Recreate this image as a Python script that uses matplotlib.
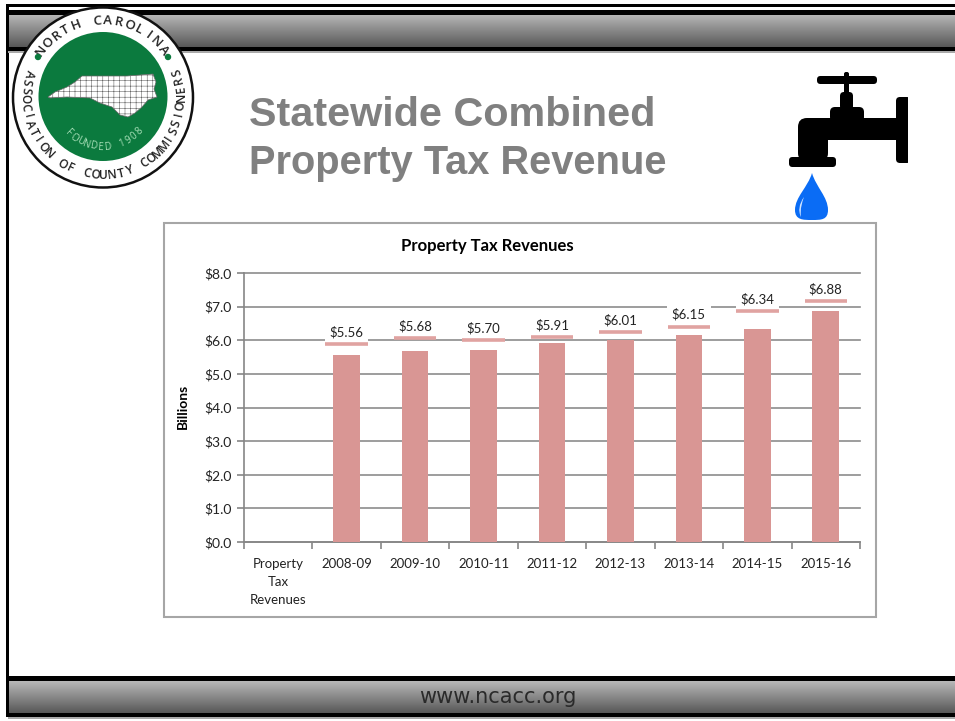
import matplotlib
matplotlib.use('Agg')
from matplotlib import pyplot as plt
from matplotlib.patches import Circle, Rectangle, FancyBboxPatch, Polygon, PathPatch
from matplotlib.path import Path
import numpy as np

categories = ['Property\nTax\nRevenues', '2008-09', '2009-10', '2010-11', '2011-12',
              '2012-13', '2013-14', '2014-15', '2015-16']
revenues = [5.56, 5.68, 5.70, 5.91, 6.01, 6.15, 6.34, 6.88]
y_ticks = [0, 1, 2, 3, 4, 5, 6, 7, 8]
# where the data labels sit on the y scale, they float above the bars
label_heights = [6.25, 6.43, 6.37, 6.46, 6.60, 6.76, 7.23, 7.53]

W, H = 955, 721
fig = plt.figure(figsize=(W / 100, H / 100), dpi=100, facecolor='white')

# background layer in pixel coordinates
bg = fig.add_axes([0, 0, 1, 1])
bg.set_xlim(0, W)
bg.set_ylim(H, 0)
bg.axis('off')

gradient = np.linspace(0, 1, 64).reshape(-1, 1)
cmap = matplotlib.colors.LinearSegmentedColormap.from_list('bar', ['#b8b8b8', '#585858'])
bg.imshow(gradient, extent=[8, W, 47, 14], cmap=cmap, aspect='auto', zorder=1)
bg.imshow(gradient, extent=[8, W, 713, 681], cmap=cmap, aspect='auto', zorder=1)
bg.set_xlim(0, W)
bg.set_ylim(H, 0)

# black rules
for y0, y1 in [(4, 7), (10, 15), (47, 51), (676, 681), (713, 717)]:
    bg.add_patch(Rectangle((6, y0), W - 6, y1 - y0, color='black', lw=0, zorder=2))
bg.add_patch(Rectangle((6, 4), 2.5, 713, color='black', lw=0, zorder=2))
bg.add_patch(Rectangle((8, 51), W - 8, 1.5, color='#aaaaaa', lw=0, zorder=2))
bg.add_patch(Rectangle((8, 717), W - 8, 1.5, color='#aaaaaa', lw=0, zorder=2))

bg.text(498, 697, 'www.ncacc.org', ha='center', va='center', fontsize=15,
        family='DejaVu Sans', color='#2a2a2a', zorder=3)

bg.text(249, 115, 'Statewide Combined', ha='left', va='center', fontsize=29.8,
        family='Liberation Sans', fontweight='bold', color='#808080', zorder=3)
bg.text(249, 163, 'Property Tax Revenue', ha='left', va='center', fontsize=28.7,
        family='Liberation Sans', fontweight='bold', color='#808080', zorder=3)

# logo
cx, cy = 103, 97.5
green = '#0b7a3e'
bg.add_patch(Circle((cx, cy), 90, facecolor='white', edgecolor='#111111', lw=1.8, zorder=4))
bg.add_patch(Circle((cx, 96.5), 64.5, facecolor=green, edgecolor='none', zorder=5))


def arc_text(s, start, end, radius, size, color, top=True, weight='normal'):
    angles = np.linspace(start, end, len(s))
    for ch, a in zip(s, angles):
        t = np.deg2rad(a)
        x = cx + radius * np.cos(t)
        y = cy - radius * np.sin(t)
        rot = a - 90 if top else a + 90
        bg.text(x, y, ch, rotation=rot, rotation_mode='anchor', ha='center', va='center',
                fontsize=size, color=color, family='Open Sans', fontweight=weight, zorder=7)


arc_text('NORTH CAROLINA', 143, 38, 77, 9.5, '#222222', weight='semibold')
arc_text('ASSOCIATION OF COUNTY COMMISSIONERS', 162, 379, 78, 8.6, '#222222', top=False, weight='semibold')
arc_text('FOUNDED 1908', 226, 317, 50, 7, '#a8e0b8', top=False)
bg.add_patch(Circle((38, 57), 2.5, color=green, zorder=7))
bg.add_patch(Circle((168, 57), 2.5, color=green, zorder=7))

nc_shape = [(48, 97), (55, 92), (67, 87), (75, 82), (82, 76), (100, 76), (127, 76), (153, 74),
            (156, 82), (154, 89), (157, 97), (148, 100), (142, 107), (135, 113), (128, 117),
            (120, 115), (112, 107), (100, 103), (90, 98), (67, 97), (50, 98)]
matplotlib.rcParams['hatch.linewidth'] = 0.4
matplotlib.rcParams['hatch.color'] = '#8a8a8a'
bg.add_patch(Polygon(nc_shape, closed=True, facecolor='white', edgecolor='#666666',
                     lw=0.5, hatch='+++', zorder=6))

# faucet
def round_box(x0, y0, x1, y1, r, color='black'):
    bg.add_patch(FancyBboxPatch((x0 + r, y0 + r), x1 - x0 - 2 * r, y1 - y0 - 2 * r,
                                boxstyle='round,pad=%s,rounding_size=%s' % (r, r),
                                facecolor=color, edgecolor='none', zorder=4))


round_box(817, 76, 877, 84, 3.5)
round_box(844, 72, 849, 95, 2)
round_box(840, 92, 853, 110, 4)
round_box(830, 107, 864, 122, 5)
round_box(798, 118, 828, 162, 9)
round_box(815, 118, 897, 140, 0.5)
round_box(789, 157, 836, 167, 3.5)
round_box(896, 97, 908, 163, 4)
round_box(902, 97, 908, 163, 0.5)

# water drop
drop = Path([(812, 173), (808, 187), (795, 197), (795, 210), (795, 220), (803, 220), (812, 220),
             (821, 220), (828, 220), (828, 210), (828, 197), (816, 187), (812, 173)],
            [Path.MOVETO] + [Path.CURVE4] * 12)
bg.add_patch(PathPatch(drop, facecolor='#0a6cf5', edgecolor='none', zorder=4))
highlight = Path([(804, 197), (799, 204), (798, 211), (801, 217), (800, 208), (802, 203), (804, 197)],
                 [Path.MOVETO] + [Path.CURVE4] * 6)
bg.add_patch(PathPatch(highlight, facecolor='#cfe4ff', edgecolor='none', zorder=5))

# chart frame
bg.add_patch(Rectangle((164, 223), 712, 394, facecolor='white', edgecolor='#a6a6a6', lw=1.5, zorder=3))

# the chart
ax = fig.add_axes([244 / W, 1 - 542 / H, 616 / W, 269 / H], facecolor='none', zorder=5)
chart_font = 'Lato'
x = np.arange(1, len(categories))
ax.bar(x, revenues, 0.39, color='#d99694', zorder=3)

ax.set_xlim(-0.5, 8.5)
ax.set_ylim(0, 8)
ax.set_yticks(y_ticks)
ax.set_yticklabels(['$%.1f' % v for v in y_ticks], fontsize=10, family=chart_font, color='#222222')
ax.set_xticks(np.arange(-0.5, 9, 1))
ax.set_xticklabels([])
ax.set_xticks(np.arange(0, 9), minor=True)
ax.set_xticklabels(categories, minor=True, fontsize=9.5, family=chart_font, color='#222222',
                   linespacing=1.6)
ax.tick_params(axis='x', which='minor', length=0, pad=11.5)
ax.tick_params(axis='x', which='major', length=5, color='#868686', width=1.2)
ax.tick_params(axis='y', length=5, color='#868686', width=1.2, pad=4)
ax.grid(axis='y', color='#8c8c8c', lw=1.2, zorder=1, clip_on=False)
ax.set_axisbelow(True)
for side in ['top', 'right']:
    ax.spines[side].set_visible(False)
for side in ['left', 'bottom']:
    ax.spines[side].set_color('#868686')
    ax.spines[side].set_linewidth(1.2)

for xi, v, h in zip(x, revenues, label_heights):
    ax.text(xi, h, '$%.2f' % v, ha='center', va='center', fontsize=9.5, family=chart_font,
            color='#222222', zorder=5,
            bbox=dict(facecolor='white', edgecolor='none', boxstyle='square,pad=0.35'))
    ax.hlines(h - 0.36, xi - 0.31, xi + 0.31, color='#e0a3a1', lw=2.6, zorder=6)

ax.set_ylabel('Billions', fontsize=10, family=chart_font, fontweight='bold', color='black')
ax.yaxis.set_label_coords((189 - 244) / 616, 1 - (406 - 273) / 269)
fig.text(487 / W, 1 - 246 / H, 'Property Tax Revenues', ha='center', va='center', fontsize=12,
         family=chart_font, fontweight='bold', color='black', zorder=6)

fig.savefig('out.png', dpi=100)
